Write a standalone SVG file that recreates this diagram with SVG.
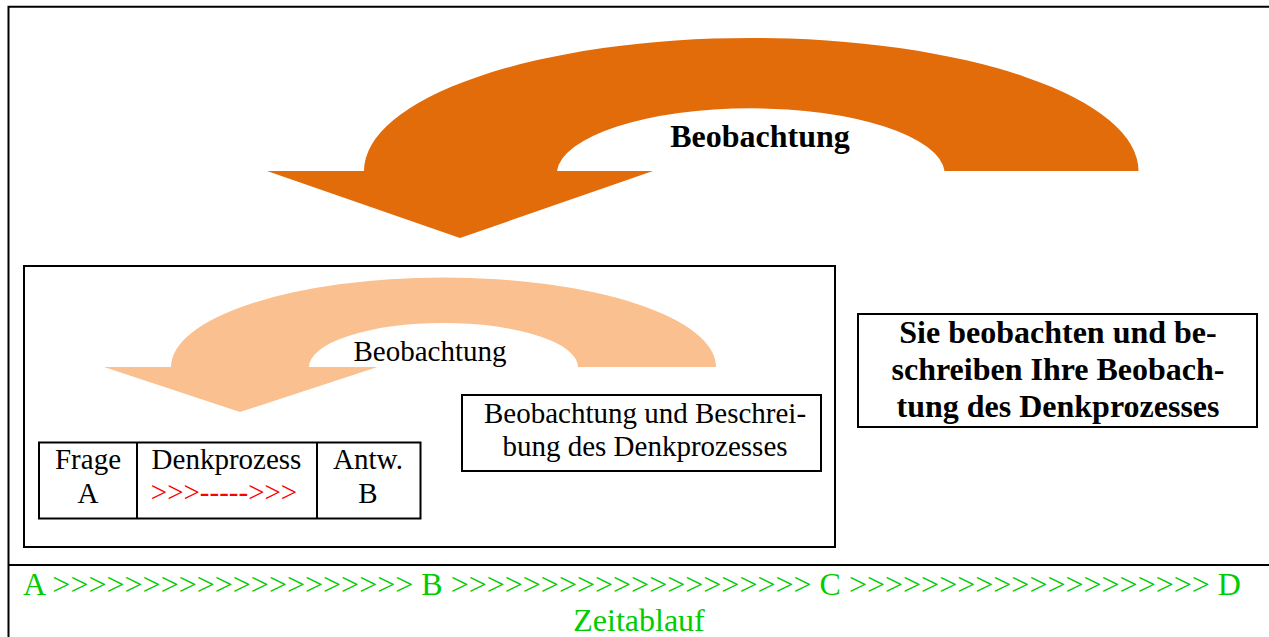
<svg xmlns="http://www.w3.org/2000/svg" width="1269" height="637" viewBox="0 0 1269 637">
<style>
.frame{fill:none;stroke:#000;stroke-width:2}
.box{fill:#fff;stroke:#000;stroke-width:2}
.reg{font-family:"Liberation Serif","Times New Roman",serif;font-size:29px;fill:#000;text-anchor:middle}
.bold{font-family:"Liberation Serif","Times New Roman",serif;font-size:32px;font-weight:bold;fill:#000;text-anchor:middle}
.green{font-family:"Liberation Serif","Times New Roman",serif;font-size:32px;fill:#00cc00}
.red{fill:#ff0000}
.dark{fill:#e36c0a}
.light{fill:#fac08f}
</style>
<rect width="1269" height="637" fill="#fff"/>
<g id="frame">
<path class="frame" d="M8.5,637 V6.7 H1269 M8.5,565 H1269"/>
</g>
<g id="inner-frame">
<rect class="frame" x="24" y="266" width="811" height="281"/>
</g>
<g id="connectors">
<path id="big-arrow" class="dark" d="M364,171 A387,133 0 0 1 1138.5,171 L944.5,171 A194,66 0 0 0 557,171 Z M267,171 L653,171 L460,238 Z"/>
<path id="small-arrow" class="light" d="M171,367 A272.5,89.5 0 0 1 716,367 L578,367 A134.5,44 0 0 0 309,367 Z M104,367 L377.5,367 L240,412 Z"/>
</g>
<g id="label-big">
<text class="bold" x="760" y="147">Beobachtung</text>
</g>
<g id="label-small">
<text class="reg" x="430" y="361">Beobachtung</text>
</g>
<g id="table">
<rect class="box" x="39" y="442.5" width="381.5" height="76"/>
<path class="frame" d="M137,442.5 V518.5 M317,442.5 V518.5"/>
<text class="reg" x="88" y="469">Frage</text>
<text class="reg" x="88" y="503">A</text>
<text class="reg" x="226.5" y="469">Denkprozess</text>
<text class="reg red" x="224" y="502">&gt;&gt;&gt;-----&gt;&gt;&gt;</text>
<text class="reg" x="368" y="469">Antw.</text>
<text class="reg" x="368" y="503">B</text>
</g>
<g id="desc-box">
<rect class="box" x="462" y="395" width="359" height="76"/>
<text class="reg" x="645" y="422.5">Beobachtung und Beschrei-</text>
<text class="reg" x="645" y="456">bung des Denkprozesses</text>
</g>
<g id="bold-box">
<rect class="box" x="858" y="314" width="399" height="113"/>
<text class="bold" x="1058" y="343">Sie beobachten und be-</text>
<text class="bold" x="1058" y="380">schreiben Ihre Beobach-</text>
<text class="bold" x="1058" y="417">tung des Denkprozesses</text>
</g>
<g id="timeline">
<text class="green" x="23" y="595">A &gt;&gt;&gt;&gt;&gt;&gt;&gt;&gt;&gt;&gt;&gt;&gt;&gt;&gt;&gt;&gt;&gt;&gt;&gt;&gt; B &gt;&gt;&gt;&gt;&gt;&gt;&gt;&gt;&gt;&gt;&gt;&gt;&gt;&gt;&gt;&gt;&gt;&gt;&gt;&gt; C &gt;&gt;&gt;&gt;&gt;&gt;&gt;&gt;&gt;&gt;&gt;&gt;&gt;&gt;&gt;&gt;&gt;&gt;&gt;&gt; D</text>
<text class="green" x="639" y="631" text-anchor="middle">Zeitablauf</text>
</g>
</svg>
